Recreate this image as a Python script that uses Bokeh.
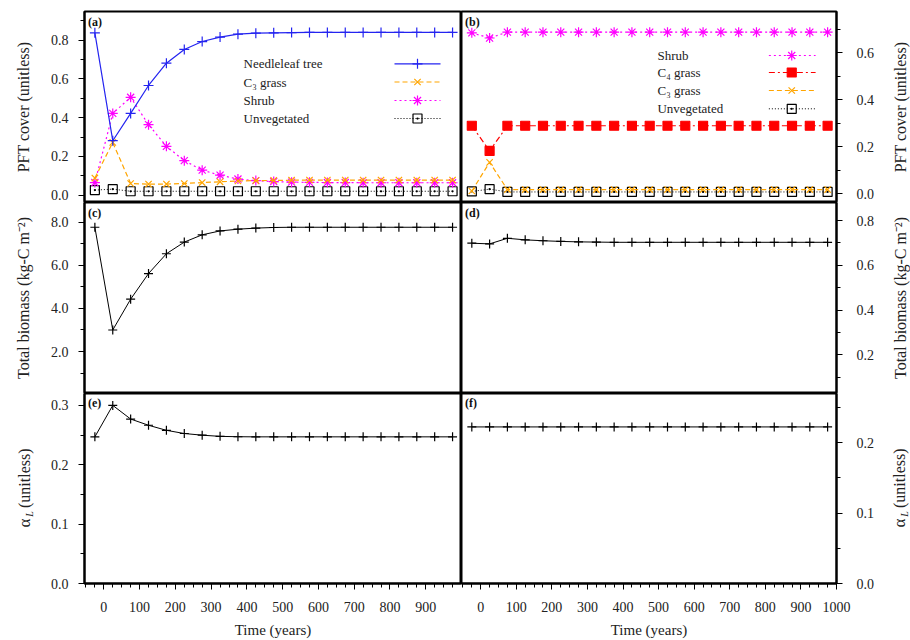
from math import pi
from bokeh.plotting import figure
from bokeh.layouts import gridplot, row
from bokeh.models import FixedTicker, Label, Range1d, PrintfTickFormatter
from bokeh.embed import file_html
from bokeh.resources import INLINE
from bokeh.core.properties import value

# ---------------- data ----------------
time_years = [-25, 25, 75, 125, 175, 225, 275, 325, 375, 425, 475,
              525, 575, 625, 675, 725, 775, 825, 875, 925, 975]

a_needleleaf = [0.838, 0.281, 0.422, 0.566, 0.681, 0.752, 0.793, 0.816, 0.831, 0.836, 0.838,
                0.839, 0.840, 0.840, 0.840, 0.840, 0.840, 0.840, 0.840, 0.840, 0.840]
a_c3_grass = [0.088, 0.272, 0.060, 0.057, 0.057, 0.060, 0.065, 0.069, 0.073, 0.075, 0.076,
              0.077, 0.078, 0.078, 0.078, 0.078, 0.078, 0.078, 0.078, 0.078, 0.078]
a_shrub = [0.065, 0.422, 0.505, 0.364, 0.252, 0.178, 0.129, 0.103, 0.083, 0.075, 0.070,
           0.067, 0.066, 0.065, 0.065, 0.064, 0.064, 0.064, 0.064, 0.064, 0.064]
a_unvegetated = [0.026, 0.031, 0.020, 0.020, 0.020, 0.020, 0.020, 0.020, 0.020, 0.020, 0.020,
                 0.020, 0.020, 0.020, 0.020, 0.020, 0.020, 0.020, 0.020, 0.020, 0.020]

b_shrub = [0.685, 0.663, 0.688, 0.688, 0.688, 0.688, 0.688, 0.688, 0.688, 0.688, 0.688,
           0.688, 0.688, 0.688, 0.688, 0.688, 0.688, 0.688, 0.688, 0.688, 0.688]
b_c4_grass = [0.289, 0.182, 0.289, 0.289, 0.289, 0.289, 0.289, 0.289, 0.289, 0.289, 0.289,
              0.289, 0.289, 0.289, 0.289, 0.289, 0.289, 0.289, 0.289, 0.289, 0.289]
b_c3_grass = [0.011, 0.133, 0.017, 0.017, 0.017, 0.017, 0.017, 0.017, 0.017, 0.017, 0.017,
              0.017, 0.017, 0.017, 0.017, 0.017, 0.017, 0.017, 0.017, 0.017, 0.017]
b_unvegetated = [0.009, 0.019, 0.007, 0.007, 0.007, 0.007, 0.007, 0.007, 0.007, 0.007, 0.007,
                 0.007, 0.007, 0.007, 0.007, 0.007, 0.007, 0.007, 0.007, 0.007, 0.007]

c_biomass = [7.77, 3.00, 4.43, 5.62, 6.54, 7.08, 7.42, 7.60, 7.68, 7.73, 7.76,
             7.77, 7.77, 7.77, 7.77, 7.77, 7.77, 7.77, 7.77, 7.77, 7.77]
d_biomass = [0.699, 0.696, 0.721, 0.714, 0.710, 0.707, 0.705, 0.704, 0.703, 0.703, 0.703,
             0.703, 0.703, 0.703, 0.703, 0.703, 0.703, 0.703, 0.703, 0.703, 0.703]
e_alpha = [0.247, 0.300, 0.277, 0.2665, 0.258, 0.2526, 0.2498, 0.2478, 0.2472, 0.247, 0.247,
           0.247, 0.247, 0.247, 0.247, 0.247, 0.247, 0.247, 0.247, 0.247, 0.247]
f_alpha = [0.2225, 0.2225, 0.2225, 0.2225, 0.2225, 0.2225, 0.2225, 0.2225, 0.2225, 0.2225, 0.2225,
           0.2225, 0.2225, 0.2225, 0.2225, 0.2225, 0.2225, 0.2225, 0.2225, 0.2225, 0.2225]

x_ticks_left = [0, 100, 200, 300, 400, 500, 600, 700, 800, 900]
x_ticks_right = [0, 100, 200, 300, 400, 500, 600, 700, 800, 900, 1000]

title_pft = "PFT cover (unitless)"
title_biomass = "Total biomass (kg-C m⁻²)"
title_alpha = "α"
title_alpha_sub = "L"
title_alpha_rest = "(unitless)"
title_time = "Time (years)"

# ---------------- layout constants ----------------
FONT = "Liberation Serif"
XR = (-54, 1000)
FW, FH = 377, 191
LSTRIP, RSTRIP = 44, 33
LP, RP, TP, BP = 40, 39, 11, 56
FRAME_X = [84, 461]
ROW_Y = [0, 202, 393]
PAGE_H = 640


def make_panel(col, row_i, yr, yticks, yminor, xticks=None):
    left = col == 0
    top = row_i == 0
    bottom = row_i == 2
    w = FW + (LP if left else RP)
    h = FH + (TP if top else 0) + (BP if bottom else 0)
    p = figure(width=w, height=h, x_range=Range1d(*XR), y_range=Range1d(*yr),
               x_axis_location="below" if bottom else None,
               y_axis_location="left" if left else "right",
               toolbar_location=None, output_backend="svg",
               min_border_left=LP if left else 0, min_border_right=0 if left else RP,
               min_border_top=TP if top else 0, min_border_bottom=BP if bottom else 0)
    p.grid.visible = False
    p.outline_line_color = "black"
    p.outline_line_width = 2
    p.background_fill_color = "white"
    p.border_fill_color = "white"
    axes = list(p.yaxis) + (list(p.xaxis) if bottom else [])
    for ax in axes:
        ax.major_tick_out = 6
        ax.major_tick_in = 0
        ax.minor_tick_out = 4
        ax.minor_tick_in = 0
        ax.major_tick_line_color = "black"
        ax.minor_tick_line_color = "black"
        ax.axis_line_color = "black"
        ax.axis_line_width = 2
        ax.major_label_text_font = FONT
        ax.major_label_text_font_size = "14px"
        ax.major_label_text_color = "#222222"
        ax.axis_label_text_font = FONT
        ax.axis_label_text_font_style = "normal"
        ax.axis_label_text_font_size = "15px"
        ax.axis_label_text_color = "#222222"
    ya = p.yaxis[0]
    ya.ticker = FixedTicker(ticks=yticks, minor_ticks=yminor)
    ya.formatter = PrintfTickFormatter(format="%.1f")
    ya.major_label_standoff = 10 if left else 14
    if bottom:
        xa = p.xaxis[0]
        xa.ticker = FixedTicker(ticks=xticks, minor_ticks=list(range(-50, 1001, 25)))
        xa.major_label_standoff = 12
        xa.axis_label = title_time
        xa.axis_label_standoff = 7
    p._fx0 = FRAME_X[col]
    p._fy0 = ROW_Y[row_i] + (TP if top else 0)
    p._yr = yr
    return p


def xd(p, gx):
    return XR[0] + (gx - p._fx0) / FW * (XR[1] - XR[0])


def yd(p, gy):
    y0, y1 = p._yr
    return y1 - (gy - p._fy0) / FH * (y1 - y0)


def panel_tag(p, text):
    p.add_layout(Label(x=xd(p, p._fx0 + 3.5), y=yd(p, p._fy0 + 10), text=text,
                       text_font=FONT, text_font_size="12px", text_font_style="bold",
                       text_align="left", text_baseline="middle", text_color="#111111"))


def series(p, y, color, dash, marker, size, lw=1.2, fill=None):
    p.line(time_years, y, line_color=color, line_dash=dash, line_width=lw)
    p.scatter(time_years, y, marker=marker, size=size, line_color=color,
              fill_color=fill if fill else None, line_width=1.2)


def legend_row(p, text_gx, x0_gx, x1_gx, xm_gx, gy, label, color, dash, marker, size, lw=1.2, fill=None):
    y = yd(p, gy)
    p.text(x=[xd(p, text_gx)], y=[y], text=[label], text_font=value(FONT),
           text_font_size="13px", text_align="left", text_baseline="middle", text_color="#222222")
    p.line([xd(p, x0_gx), xd(p, x1_gx)], [y, y], line_color=color, line_dash=dash, line_width=lw)
    p.scatter([xd(p, xm_gx)], [y], marker=marker, size=size, line_color=color,
              fill_color=fill if fill else None, line_width=1.2)


def title_strip(width, xc, xa):
    # a blank figure whose data units equal page pixels (y downwards), holding the y-axis titles
    s = figure(width=width, height=PAGE_H, x_range=Range1d(0, width), y_range=Range1d(PAGE_H, 0),
               x_axis_location=None, y_axis_location=None, toolbar_location=None,
               output_backend="svg", min_border=0)
    s.grid.visible = False
    s.outline_line_color = None
    s.background_fill_color = "white"
    s.border_fill_color = "white"
    common = dict(text_font=value(FONT), text_color="#222222", angle=pi / 2, text_baseline="middle")
    s.text(x=[xc, xc], y=[106.5, 297.5], text=[title_pft, title_biomass],
           text_font_size="16px", text_align="center", **common)
    yc = 488.5
    s.text(x=[xa], y=[yc + 34], text=[title_alpha], text_font_size="17px", text_align="center", **common)
    s.text(x=[xa + 5], y=[yc + 25], text=[title_alpha_sub], text_font_size="10px",
           text_font_style="italic", text_align="center", **common)
    s.text(x=[xa], y=[yc + 19], text=[title_alpha_rest], text_font_size="16px", text_align="left", **common)
    return s


# ---------------- panels ----------------
pa = make_panel(0, 0, (-0.038, 0.948), [0, 0.2, 0.4, 0.6, 0.8], [0.1, 0.3, 0.5, 0.7, 0.9])
pb = make_panel(1, 0, (-0.038, 0.776), [0, 0.2, 0.4, 0.6], [0.1, 0.3, 0.5, 0.7])
pc = make_panel(0, 1, (0.05, 8.92), [2, 4, 6, 8], [1, 3, 5, 7])
pd = make_panel(1, 1, (0.027, 0.881), [0.2, 0.4, 0.6, 0.8], [0.1, 0.3, 0.5, 0.7])
pe = make_panel(0, 2, (0.0, 0.32), [0, 0.1, 0.2, 0.3], [0.05, 0.15, 0.25], x_ticks_left)
pf = make_panel(1, 2, (0.0, 0.27), [0, 0.1, 0.2], [0.05, 0.15, 0.25], x_ticks_right)

BLUE, ORANGE, MAGENTA, RED = "#2424f0", "#ffa500", "#ff00ff", "#ff0000"

# (a)
series(pa, a_unvegetated, "black", "1 2", "square_dot", 9, lw=1)
series(pa, a_shrub, MAGENTA, "2 3", "asterisk", 10)
series(pa, a_c3_grass, ORANGE, "5 3", "x", 9)
series(pa, a_needleleaf, BLUE, "solid", "cross", 10)
legend_row(pa, 243, 394, 440, 417, 63.3, "Needleleaf tree", BLUE, "solid", "cross", 10)
legend_row(pa, 243, 394, 440, 417, 81.5, "C₃ grass", ORANGE, "5 3", "x", 9)
legend_row(pa, 243, 394, 440, 417, 100, "Shrub", MAGENTA, "2 3", "asterisk", 10)
legend_row(pa, 243, 394, 440, 417, 118, "Unvegetated", "black", "1 2", "square_dot", 9, lw=1)

# (b)
series(pb, b_unvegetated, "black", "1 2", "square_dot", 9, lw=1)
series(pb, b_c3_grass, ORANGE, "5 3", "x", 9)
series(pb, b_c4_grass, RED, "6 3 2 3", "square", 9, fill=RED)
series(pb, b_shrub, MAGENTA, "2 3", "asterisk", 10)
legend_row(pb, 658, 770, 817, 793, 55, "Shrub", MAGENTA, "2 3", "asterisk", 10)
legend_row(pb, 658, 770, 817, 793, 72, "C₄ grass", RED, "6 3 2 3", "square", 9, fill=RED)
legend_row(pb, 658, 770, 817, 793, 90, "C₃ grass", ORANGE, "5 3", "x", 9)
legend_row(pb, 658, 770, 817, 793, 108.3, "Unvegetated", "black", "1 2", "square_dot", 9, lw=1)

# (c)-(f)
series(pc, c_biomass, "black", "solid", "cross", 9, lw=1)
series(pd, d_biomass, "black", "solid", "cross", 9, lw=1)
series(pe, e_alpha, "black", "solid", "cross", 9, lw=1)
series(pf, f_alpha, "black", "solid", "cross", 9, lw=1)

for p, tag in [(pa, "(a)"), (pb, "(b)"), (pc, "(c)"), (pd, "(d)"), (pe, "(e)"), (pf, "(f)")]:
    panel_tag(p, tag)

left_strip = title_strip(LSTRIP, 23, 24)
right_strip = title_strip(RSTRIP, 23, 22)

grid = gridplot([[pa, pb], [pc, pd], [pe, pf]], toolbar_location=None)
page = row(left_strip, grid, right_strip)

open("out.html", "w").write(file_html(page, INLINE))
